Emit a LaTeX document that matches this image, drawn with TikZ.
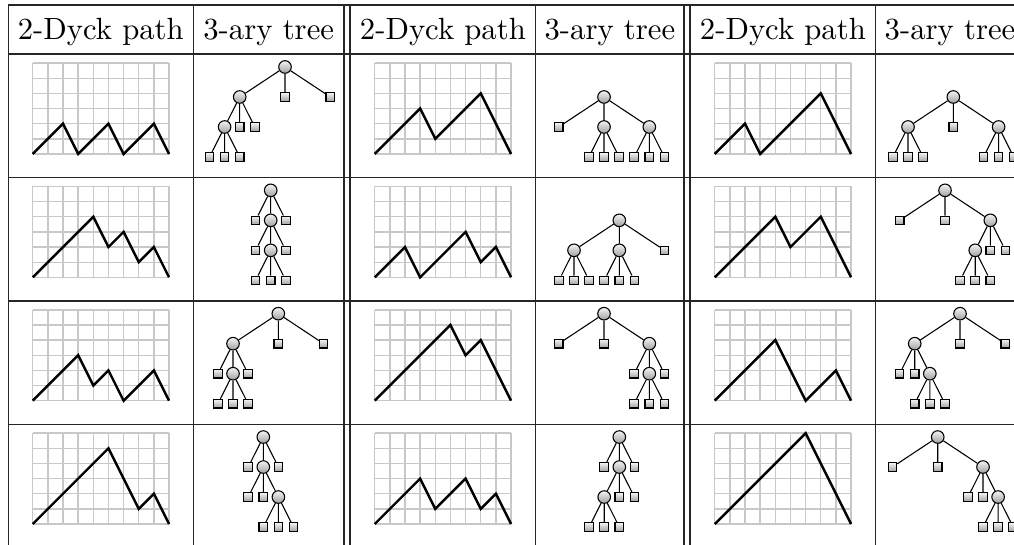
\documentclass[tikz,border=0pt]{standalone}
\definecolor{ruleInk}{HTML}{262626}
\definecolor{latGrey}{HTML}{C8C8C8}
\definecolor{knotTop}{HTML}{F4F4F4}
\definecolor{knotBot}{HTML}{A0A0A0}

\begin{document}
\begin{tikzpicture}[
  x=0.3257pt, y=0.3257pt,
  font=\fontsize{10pt}{12pt}\selectfont,
  tabrule/.style  ={draw=ruleInk, line width=0.45pt},
  headtxt/.style  ={anchor=base, inner sep=0pt},
  cellunits/.style={x=4.934pt, y=4.934pt},
  lattice/.style  ={draw=latGrey, line width=0.45pt, step=1},
  dyck/.style     ={draw=black, line width=0.8pt, line join=miter},
  tiers/.style    ={x=4.918pt, y=9.771pt},
  inode/.style    ={circle, draw=black, line width=0.35pt, minimum size=4.1pt, inner sep=0pt,
                    top color=knotTop, bottom color=knotBot},
  leaf/.style     ={rectangle, draw=black, line width=0.35pt, minimum size=2.8pt, inner sep=0pt,
                    top color=knotTop, bottom color=knotBot},
  branch/.style   ={draw=black, line width=0.35pt},
]

% ---- frame: the picture is a cut of a wider table ------------------------------------
\useasboundingbox (0,0) rectangle (1014,545);
\clip (0,0) rectangle (1014,545);

% ---- the grid, stated once (one unit = one pixel of the picture) ----------------------
\pgfmathsetmacro{\pitch}{123.35}          % row height
\pgfmathsetmacro{\ya}{367.5}              % bottom rule of row 1
\pgfmathsetmacro{\yb}{\ya-\pitch}
\pgfmathsetmacro{\yc}{\ya-2*\pitch}
\pgfmathsetmacro{\yd}{\ya-3*\pitch}
\pgfmathsetmacro{\xa}{32.7}               % lattice left edge, pair A
\pgfmathsetmacro{\xb}{374.7}
\pgfmathsetmacro{\xc}{714.7}

% ============================================================ TABLE RULES
\draw[tabrule] (8.3,540) -- (1030,540)  (8.3,491) -- (1030,491)
               (8.3,\ya) -- (1030,\ya)  (8.3,\yb) -- (1030,\yb)
               (8.3,\yc) -- (1030,\yc);
\draw[tabrule] (8.3,540) -- (8.3,-10)   (193.3,540) -- (193.3,-10)
               (344,540) -- (344,-10)   (350,540) -- (350,-10)
               (535.7,540) -- (535.7,-10)
               (684,540) -- (684,-10)   (690,540) -- (690,-10)
               (875.7,540) -- (875.7,-10);

\node[headtxt] (h1) at (100.8,505.7) {2-Dyck path};
\node[headtxt] (h2) at (268.7,505.7) {3-ary tree};
\node[headtxt] (h3) at (442.9,505.7) {2-Dyck path};
\node[headtxt] (h4) at (609.9,505.7) {3-ary tree};
\node[headtxt] (h5) at (782.9,505.7) {2-Dyck path};
\node[headtxt] (h6) at (950,505.7) {3-ary tree};

% ============================================================ DYCK PATHS
% up step (1,1), down step (1,-2), drawn on a 9 x 6 lattice
\begin{scope}[shift={(\xa,\ya+23.5)}, cellunits]
  \draw[lattice] (0,0) grid (9,6);
  \draw[dyck] (0,0) -- (2,2) -- (3,0) -- (5,2) -- (6,0) -- (8,2) -- (9,0);
\end{scope}
\begin{scope}[shift={(\xb,\ya+23.5)}, cellunits]
  \draw[lattice] (0,0) grid (9,6);
  \draw[dyck] (0,0) -- (3,3) -- (4,1) -- (7,4) -- (9,0);
\end{scope}
\begin{scope}[shift={(\xc,\ya+23.5)}, cellunits]
  \draw[lattice] (0,0) grid (9,6);
  \draw[dyck] (0,0) -- (2,2) -- (3,0) -- (7,4) -- (9,0);
\end{scope}

\begin{scope}[shift={(\xa,\yb+23.5)}, cellunits]
  \draw[lattice] (0,0) grid (9,6);
  \draw[dyck] (0,0) -- (4,4) -- (5,2) -- (6,3) -- (7,1) -- (8,2) -- (9,0);
\end{scope}
\begin{scope}[shift={(\xb,\yb+23.5)}, cellunits]
  \draw[lattice] (0,0) grid (9,6);
  \draw[dyck] (0,0) -- (2,2) -- (3,0) -- (6,3) -- (7,1) -- (8,2) -- (9,0);
\end{scope}
\begin{scope}[shift={(\xc,\yb+23.5)}, cellunits]
  \draw[lattice] (0,0) grid (9,6);
  \draw[dyck] (0,0) -- (4,4) -- (5,2) -- (7,4) -- (9,0);
\end{scope}

\begin{scope}[shift={(\xa,\yc+23.5)}, cellunits]
  \draw[lattice] (0,0) grid (9,6);
  \draw[dyck] (0,0) -- (3,3) -- (4,1) -- (5,2) -- (6,0) -- (8,2) -- (9,0);
\end{scope}
\begin{scope}[shift={(\xb,\yc+23.5)}, cellunits]
  \draw[lattice] (0,0) grid (9,6);
  \draw[dyck] (0,0) -- (5,5) -- (6,3) -- (7,4) -- (9,0);
\end{scope}
\begin{scope}[shift={(\xc,\yc+23.5)}, cellunits]
  \draw[lattice] (0,0) grid (9,6);
  \draw[dyck] (0,0) -- (4,4) -- (6,0) -- (8,2) -- (9,0);
\end{scope}

\begin{scope}[shift={(\xa,\yd+23.5)}, cellunits]
  \draw[lattice] (0,0) grid (9,6);
  \draw[dyck] (0,0) -- (5,5) -- (7,1) -- (8,2) -- (9,0);
\end{scope}
\begin{scope}[shift={(\xb,\yd+23.5)}, cellunits]
  \draw[lattice] (0,0) grid (9,6);
  \draw[dyck] (0,0) -- (3,3) -- (4,1) -- (6,3) -- (7,1) -- (8,2) -- (9,0);
\end{scope}
\begin{scope}[shift={(\xc,\yd+23.5)}, cellunits]
  \draw[lattice] (0,0) grid (9,6);
  \draw[dyck] (0,0) -- (6,6) -- (9,0);
\end{scope}

% ============================================================ 3-ARY TREES
% y counts tiers up from the leaf row, which sits on the same line in every cell
% ---- row 1
\begin{scope}[shift={(285,\ya+20.5)}, tiers]
  \node[inode] (A1) at (0,3) {};
  \node[inode] (A1-1) at (-3,2) {};
  \node[leaf]  (A1-2) at (0,2) {};
  \node[leaf]  (A1-3) at (3,2) {};
  \node[inode] (A1-1-1) at (-4,1) {};
  \node[leaf]  (A1-1-2) at (-3,1) {};
  \node[leaf]  (A1-1-3) at (-2,1) {};
  \node[leaf]  (A1-1-1-1) at (-5,0) {};
  \node[leaf]  (A1-1-1-2) at (-4,0) {};
  \node[leaf]  (A1-1-1-3) at (-3,0) {};
  \draw[branch] (A1) -- (A1-1) (A1) -- (A1-2) (A1) -- (A1-3)
    (A1-1) -- (A1-1-1) (A1-1) -- (A1-1-2) (A1-1) -- (A1-1-3)
    (A1-1-1) -- (A1-1-1-1) (A1-1-1) -- (A1-1-1-2) (A1-1-1) -- (A1-1-1-3);
\end{scope}
\begin{scope}[shift={(604,\ya+20.5)}, tiers]
  \node[inode] (B1) at (0,2) {};
  \node[leaf]  (B1-1) at (-3,1) {};
  \node[inode] (B1-2) at (0,1) {};
  \node[inode] (B1-3) at (3,1) {};
  \node[leaf]  (B1-2-1) at (-1,0) {};
  \node[leaf]  (B1-2-2) at (0,0) {};
  \node[leaf]  (B1-2-3) at (1,0) {};
  \node[leaf]  (B1-3-1) at (2,0) {};
  \node[leaf]  (B1-3-2) at (3,0) {};
  \node[leaf]  (B1-3-3) at (4,0) {};
  \draw[branch] (B1) -- (B1-1) (B1) -- (B1-2) (B1) -- (B1-3)
    (B1-2) -- (B1-2-1) (B1-2) -- (B1-2-2) (B1-2) -- (B1-2-3)
    (B1-3) -- (B1-3-1) (B1-3) -- (B1-3-2) (B1-3) -- (B1-3-3);
\end{scope}
\begin{scope}[shift={(953.3,\ya+20.5)}, tiers]
  \node[inode] (C1) at (0,2) {};
  \node[inode] (C1-1) at (-3,1) {};
  \node[leaf]  (C1-2) at (0,1) {};
  \node[inode] (C1-3) at (3,1) {};
  \node[leaf]  (C1-1-1) at (-4,0) {};
  \node[leaf]  (C1-1-2) at (-3,0) {};
  \node[leaf]  (C1-1-3) at (-2,0) {};
  \node[leaf]  (C1-3-1) at (2,0) {};
  \node[leaf]  (C1-3-2) at (3,0) {};
  \node[leaf]  (C1-3-3) at (4,0) {};
  \draw[branch] (C1) -- (C1-1) (C1) -- (C1-2) (C1) -- (C1-3)
    (C1-1) -- (C1-1-1) (C1-1) -- (C1-1-2) (C1-1) -- (C1-1-3)
    (C1-3) -- (C1-3-1) (C1-3) -- (C1-3-2) (C1-3) -- (C1-3-3);
\end{scope}

% ---- row 2
\begin{scope}[shift={(270.7,\yb+20.5)}, tiers]
  \node[inode] (A2) at (0,3) {};
  \node[leaf]  (A2-1) at (-1,2) {};
  \node[inode] (A2-2) at (0,2) {};
  \node[leaf]  (A2-3) at (1,2) {};
  \node[leaf]  (A2-2-1) at (-1,1) {};
  \node[inode] (A2-2-2) at (0,1) {};
  \node[leaf]  (A2-2-3) at (1,1) {};
  \node[leaf]  (A2-2-2-1) at (-1,0) {};
  \node[leaf]  (A2-2-2-2) at (0,0) {};
  \node[leaf]  (A2-2-2-3) at (1,0) {};
  \draw[branch] (A2) -- (A2-1) (A2) -- (A2-2) (A2) -- (A2-3)
    (A2-2) -- (A2-2-1) (A2-2) -- (A2-2-2) (A2-2) -- (A2-2-3)
    (A2-2-2) -- (A2-2-2-1) (A2-2-2) -- (A2-2-2-2) (A2-2-2) -- (A2-2-2-3);
\end{scope}
\begin{scope}[shift={(619.3,\yb+20.5)}, tiers]
  \node[inode] (B2) at (0,2) {};
  \node[inode] (B2-1) at (-3,1) {};
  \node[inode] (B2-2) at (0,1) {};
  \node[leaf]  (B2-3) at (3,1) {};
  \node[leaf]  (B2-1-1) at (-4,0) {};
  \node[leaf]  (B2-1-2) at (-3,0) {};
  \node[leaf]  (B2-1-3) at (-2,0) {};
  \node[leaf]  (B2-2-1) at (-1,0) {};
  \node[leaf]  (B2-2-2) at (0,0) {};
  \node[leaf]  (B2-2-3) at (1,0) {};
  \draw[branch] (B2) -- (B2-1) (B2) -- (B2-2) (B2) -- (B2-3)
    (B2-1) -- (B2-1-1) (B2-1) -- (B2-1-2) (B2-1) -- (B2-1-3)
    (B2-2) -- (B2-2-1) (B2-2) -- (B2-2-2) (B2-2) -- (B2-2-3);
\end{scope}
\begin{scope}[shift={(945,\yb+20.5)}, tiers]
  \node[inode] (C2) at (0,3) {};
  \node[leaf]  (C2-1) at (-3,2) {};
  \node[leaf]  (C2-2) at (0,2) {};
  \node[inode] (C2-3) at (3,2) {};
  \node[inode] (C2-3-1) at (2,1) {};
  \node[leaf]  (C2-3-2) at (3,1) {};
  \node[leaf]  (C2-3-3) at (4,1) {};
  \node[leaf]  (C2-3-1-1) at (1,0) {};
  \node[leaf]  (C2-3-1-2) at (2,0) {};
  \node[leaf]  (C2-3-1-3) at (3,0) {};
  \draw[branch] (C2) -- (C2-1) (C2) -- (C2-2) (C2) -- (C2-3)
    (C2-3) -- (C2-3-1) (C2-3) -- (C2-3-2) (C2-3) -- (C2-3-3)
    (C2-3-1) -- (C2-3-1-1) (C2-3-1) -- (C2-3-1-2) (C2-3-1) -- (C2-3-1-3);
\end{scope}

% ---- row 3
\begin{scope}[shift={(278.3,\yc+20.5)}, tiers]
  \node[inode] (A3) at (0,3) {};
  \node[inode] (A3-1) at (-3,2) {};
  \node[leaf]  (A3-2) at (0,2) {};
  \node[leaf]  (A3-3) at (3,2) {};
  \node[leaf]  (A3-1-1) at (-4,1) {};
  \node[inode] (A3-1-2) at (-3,1) {};
  \node[leaf]  (A3-1-3) at (-2,1) {};
  \node[leaf]  (A3-1-2-1) at (-4,0) {};
  \node[leaf]  (A3-1-2-2) at (-3,0) {};
  \node[leaf]  (A3-1-2-3) at (-2,0) {};
  \draw[branch] (A3) -- (A3-1) (A3) -- (A3-2) (A3) -- (A3-3)
    (A3-1) -- (A3-1-1) (A3-1) -- (A3-1-2) (A3-1) -- (A3-1-3)
    (A3-1-2) -- (A3-1-2-1) (A3-1-2) -- (A3-1-2-2) (A3-1-2) -- (A3-1-2-3);
\end{scope}
\begin{scope}[shift={(604,\yc+20.5)}, tiers]
  \node[inode] (B3) at (0,3) {};
  \node[leaf]  (B3-1) at (-3,2) {};
  \node[leaf]  (B3-2) at (0,2) {};
  \node[inode] (B3-3) at (3,2) {};
  \node[leaf]  (B3-3-1) at (2,1) {};
  \node[inode] (B3-3-2) at (3,1) {};
  \node[leaf]  (B3-3-3) at (4,1) {};
  \node[leaf]  (B3-3-2-1) at (2,0) {};
  \node[leaf]  (B3-3-2-2) at (3,0) {};
  \node[leaf]  (B3-3-2-3) at (4,0) {};
  \draw[branch] (B3) -- (B3-1) (B3) -- (B3-2) (B3) -- (B3-3)
    (B3-3) -- (B3-3-1) (B3-3) -- (B3-3-2) (B3-3) -- (B3-3-3)
    (B3-3-2) -- (B3-3-2-1) (B3-3-2) -- (B3-3-2-2) (B3-3-2) -- (B3-3-2-3);
\end{scope}
\begin{scope}[shift={(960,\yc+20.5)}, tiers]
  \node[inode] (C3) at (0,3) {};
  \node[inode] (C3-1) at (-3,2) {};
  \node[leaf]  (C3-2) at (0,2) {};
  \node[leaf]  (C3-3) at (3,2) {};
  \node[leaf]  (C3-1-1) at (-4,1) {};
  \node[leaf]  (C3-1-2) at (-3,1) {};
  \node[inode] (C3-1-3) at (-2,1) {};
  \node[leaf]  (C3-1-3-1) at (-3,0) {};
  \node[leaf]  (C3-1-3-2) at (-2,0) {};
  \node[leaf]  (C3-1-3-3) at (-1,0) {};
  \draw[branch] (C3) -- (C3-1) (C3) -- (C3-2) (C3) -- (C3-3)
    (C3-1) -- (C3-1-1) (C3-1) -- (C3-1-2) (C3-1) -- (C3-1-3)
    (C3-1-3) -- (C3-1-3-1) (C3-1-3) -- (C3-1-3-2) (C3-1-3) -- (C3-1-3-3);
\end{scope}

% ---- row 4
\begin{scope}[shift={(263.3,\yd+20.5)}, tiers]
  \node[inode] (A4) at (0,3) {};
  \node[leaf]  (A4-1) at (-1,2) {};
  \node[inode] (A4-2) at (0,2) {};
  \node[leaf]  (A4-3) at (1,2) {};
  \node[leaf]  (A4-2-1) at (-1,1) {};
  \node[leaf]  (A4-2-2) at (0,1) {};
  \node[inode] (A4-2-3) at (1,1) {};
  \node[leaf]  (A4-2-3-1) at (0,0) {};
  \node[leaf]  (A4-2-3-2) at (1,0) {};
  \node[leaf]  (A4-2-3-3) at (2,0) {};
  \draw[branch] (A4) -- (A4-1) (A4) -- (A4-2) (A4) -- (A4-3)
    (A4-2) -- (A4-2-1) (A4-2) -- (A4-2-2) (A4-2) -- (A4-2-3)
    (A4-2-3) -- (A4-2-3-1) (A4-2-3) -- (A4-2-3-2) (A4-2-3) -- (A4-2-3-3);
\end{scope}
\begin{scope}[shift={(619.3,\yd+20.5)}, tiers]
  \node[inode] (B4) at (0,3) {};
  \node[leaf]  (B4-1) at (-1,2) {};
  \node[inode] (B4-2) at (0,2) {};
  \node[leaf]  (B4-3) at (1,2) {};
  \node[inode] (B4-2-1) at (-1,1) {};
  \node[leaf]  (B4-2-2) at (0,1) {};
  \node[leaf]  (B4-2-3) at (1,1) {};
  \node[leaf]  (B4-2-1-1) at (-2,0) {};
  \node[leaf]  (B4-2-1-2) at (-1,0) {};
  \node[leaf]  (B4-2-1-3) at (0,0) {};
  \draw[branch] (B4) -- (B4-1) (B4) -- (B4-2) (B4) -- (B4-3)
    (B4-2) -- (B4-2-1) (B4-2) -- (B4-2-2) (B4-2) -- (B4-2-3)
    (B4-2-1) -- (B4-2-1-1) (B4-2-1) -- (B4-2-1-2) (B4-2-1) -- (B4-2-1-3);
\end{scope}
\begin{scope}[shift={(937.7,\yd+20.5)}, tiers]
  \node[inode] (C4) at (0,3) {};
  \node[leaf]  (C4-1) at (-3,2) {};
  \node[leaf]  (C4-2) at (0,2) {};
  \node[inode] (C4-3) at (3,2) {};
  \node[leaf]  (C4-3-1) at (2,1) {};
  \node[leaf]  (C4-3-2) at (3,1) {};
  \node[inode] (C4-3-3) at (4,1) {};
  \node[leaf]  (C4-3-3-1) at (3,0) {};
  \node[leaf]  (C4-3-3-2) at (4,0) {};
  \node[leaf]  (C4-3-3-3) at (5,0) {};
  \draw[branch] (C4) -- (C4-1) (C4) -- (C4-2) (C4) -- (C4-3)
    (C4-3) -- (C4-3-1) (C4-3) -- (C4-3-2) (C4-3) -- (C4-3-3)
    (C4-3-3) -- (C4-3-3-1) (C4-3-3) -- (C4-3-3-2) (C4-3-3) -- (C4-3-3-3);
\end{scope}

\end{tikzpicture}
\end{document}
